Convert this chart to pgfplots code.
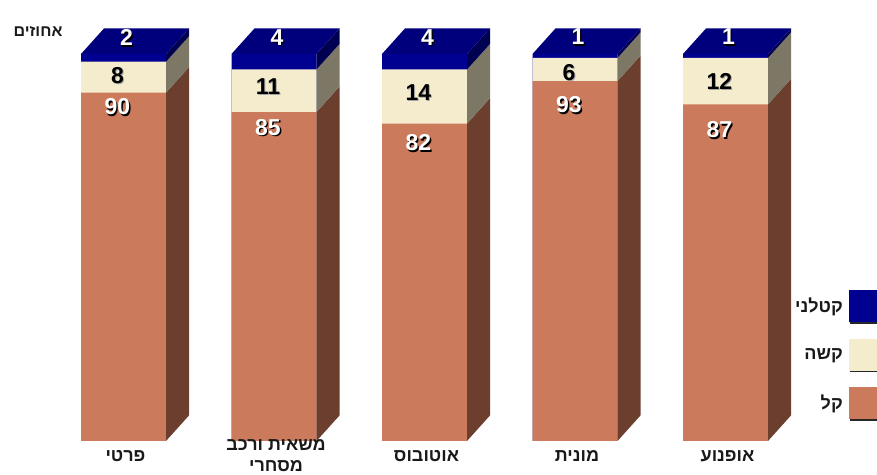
\documentclass[border=0pt]{standalone}
\usepackage{pgfplots}
\usepackage{pgfplotstable}
\pgfplotsset{compat=1.18}
\usepackage{fontspec}
\setmainfont{Liberation Sans}
\newfontfamily\heb[Script=Hebrew]{Liberation Sans}
\TeXXeTstate=1

\definecolor{kalF}{RGB}{204,122,92}
\definecolor{kalS}{RGB}{107,62,46}
\definecolor{kasheF}{RGB}{245,236,206}
\definecolor{kasheS}{RGB}{125,119,102}
\definecolor{katF}{RGB}{0,0,145}
\definecolor{katT}{RGB}{0,0,125}
\definecolor{katS}{RGB}{0,0,80}

% percentages: kal (light), kashe (severe), katlani (fatal)
\pgfplotstableread{
x kal kashe katlani
0 90 8 2
1 85 11 4
2 82 14 4
3 93 6 1
4 87 12 1
}\data
\pgfplotstablecreatecol[expr={\thisrow{kal}+\thisrow{kashe}}]{c2}\data
\pgfplotstablecreatecol[expr={\thisrow{kal}+\thisrow{kashe}+\thisrow{katlani}}]{c3}\data

% label positions
\pgfplotstableread{
x y lab
0.02 104.2 2
1.02 104.2 4
2.02 104.2 4
3.02 104.4 1
4.02 104.4 1
-0.04 86.3 90
0.96 81.1 85
1.96 77.0 82
2.96 86.8 93
3.96 80.4 87
}\whitelabels
\pgfplotstableread{
x y lab
-0.04 94.3 8
0.96 91.5 11
1.96 89.9 14
2.96 95.3 6
3.96 92.8 12
}\blacklabels

\newcommand\hw{0.2824}
\newcommand\ddx{0.1528}
\newcommand\ddy{6.6}
\newcommand\sideface[4]{%
 \pgfmathsetmacro\xa{#1+\hw}%
 \pgfmathsetmacro\xb{#1+\hw+\ddx}%
 \pgfmathsetmacro\ya{#2+\ddy}%
 \pgfmathsetmacro\yb{#3+\ddy}%
 \edef\tmp{\noexpand\addplot[fill=#4, draw=none, forget plot] coordinates {(\xa,#2) (\xb,\ya) (\xb,\yb) (\xa,#3)};}%
 \tmp}
\newcommand\topface[2]{%
 \pgfmathsetmacro\xa{#1-\hw}%
 \pgfmathsetmacro\xb{#1+\hw}%
 \pgfmathsetmacro\xc{#1+\hw+\ddx}%
 \pgfmathsetmacro\xd{#1-\hw+\ddx}%
 \pgfmathsetmacro\ya{#2+\ddy}%
 \edef\tmp{\noexpand\addplot[fill=katT, draw=none, forget plot] coordinates {(\xa,#2) (\xb,#2) (\xc,\ya) (\xd,\ya)};}%
 \tmp}

\pgfplotsset{boxlegend/.style={legend image code/.code={
  \fill[black!85] (1.5pt,-17.5pt) rectangle (34pt,-15pt);
  \path[##1, draw=none] (0pt,-16pt) rectangle (33pt,16pt);}}}

\begin{document}
\begin{tikzpicture}
\begin{axis}[
  name=ax,
  scale only axis,
  width=877pt, height=475pt,
  xmin=-0.8206, xmax=5.0066,
  ymin=-8.786, ymax=113.95,
  clip=false,
  axis on top,
  axis line style={draw=none},
  tick style={draw=none},
  major tick length=0pt,
  ytick=\empty,
  xtick={0,1,2,3,4},
  xticklabels={{\beginR פרטי\endR},{\beginR משאית ורכב\endR\\\beginR מסחרי\endR},{\beginR אוטובוס\endR},{\beginR מונית\endR},{\beginR אופנוע\endR}},
  xticklabel style={font=\heb\bfseries\fontsize{18}{21}\selectfont, align=center, anchor=center, yshift=19pt, xshift=2pt, text=black!90},
  legend plot pos=right,
  legend cell align=right,
  legend style={draw=none, fill=none, at={(axis description cs:1.0068,0.3895)}, anchor=north east,
    inner sep=0pt, row sep=15pt, column sep=6pt,
    nodes={inner sep=0pt, font=\heb\bfseries\fontsize{18}{18}\selectfont, text=black!90}},
]
% front faces (stacked, cumulative)
\addplot[ybar, bar width=85pt, bar shift=0pt, fill=katF, draw=none, boxlegend] table[x=x,y=c3]{\data};
\addlegendentry{\beginR קטלני\endR}
\addplot[ybar, bar width=85pt, bar shift=0pt, fill=kasheF, draw=none, boxlegend] table[x=x,y=c2]{\data};
\addlegendentry{\beginR קשה\endR}
\addplot[ybar, bar width=85pt, bar shift=0pt, fill=kalF, draw=none, boxlegend] table[x=x,y=kal]{\data};
\addlegendentry{\beginR קל\endR}
% side and top faces
\pgfplotsinvokeforeach{0,1,2,3,4}{
  \pgfplotstablegetelem{#1}{kal}\of\data \edef\vA{\pgfplotsretval}
  \pgfplotstablegetelem{#1}{c2}\of\data \edef\vB{\pgfplotsretval}
  \pgfplotstablegetelem{#1}{c3}\of\data \edef\vC{\pgfplotsretval}
  \sideface{#1}{0}{\vA}{kalS}
  \sideface{#1}{\vA}{\vB}{kasheS}
  \sideface{#1}{\vB}{\vC}{katS}
  \topface{#1}{\vC}
}
% value labels
\addplot[draw=none, mark=none, forget plot, nodes near coords, point meta=explicit symbolic,
  every node near coord/.append style={anchor=center, text=black, font=\bfseries\fontsize{23}{23}\selectfont, xshift=1.3pt, yshift=-1.3pt}]
  table[x=x,y=y,meta=lab]{\whitelabels};
\addplot[draw=none, mark=none, forget plot, nodes near coords, point meta=explicit symbolic,
  every node near coord/.append style={anchor=center, text=white, font=\bfseries\fontsize{23}{23}\selectfont}]
  table[x=x,y=y,meta=lab]{\whitelabels};
\addplot[draw=none, mark=none, forget plot, nodes near coords, point meta=explicit symbolic,
  every node near coord/.append style={anchor=center, text=black!35, font=\bfseries\fontsize{23}{23}\selectfont, xshift=1pt, yshift=-1pt}]
  table[x=x,y=y,meta=lab]{\blacklabels};
\addplot[draw=none, mark=none, forget plot, nodes near coords, point meta=explicit symbolic,
  every node near coord/.append style={anchor=center, text=black, font=\bfseries\fontsize{23}{23}\selectfont}]
  table[x=x,y=y,meta=lab]{\blacklabels};
\node[font=\heb\bfseries\fontsize{16}{16}\selectfont, text=black!90] at (axis cs:-0.568,105.9) {\beginR אחוזים\endR};
\end{axis}
\pgfresetboundingbox
\useasboundingbox (ax.south west) rectangle (ax.north east);
\end{tikzpicture}
\end{document}
